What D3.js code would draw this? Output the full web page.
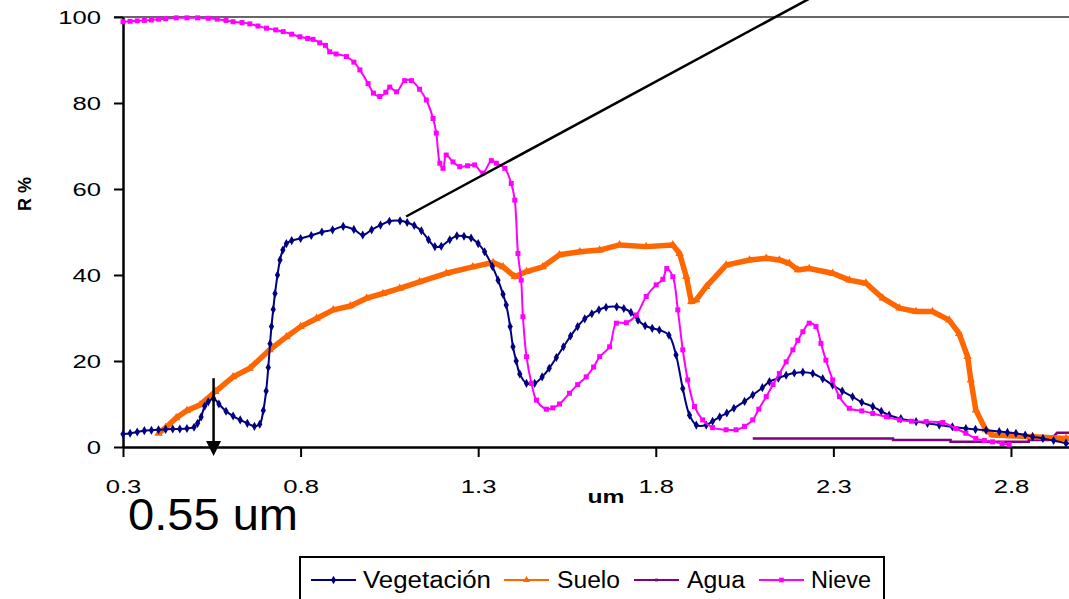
<!DOCTYPE html>
<html>
<head>
<meta charset="utf-8">
<script src="https://cdn.jsdelivr.net/npm/d3@7"></script>
<style>
  body { margin: 0; background: #fff; }
  svg { display: block; font-family: Arial, "Liberation Sans", sans-serif; }
</style>
</head>
<body>
<div id="chart"></div>
<script>
// datos: [longitud de onda (um), reflectancia (%)]
const vegetacion = [
  [0.30,3.0],[0.32,3.2],[0.34,3.5],[0.36,3.8],[0.38,3.9],[0.40,4.0],[0.42,4.1],[0.44,4.2],[0.46,4.2],[0.48,4.3],
  [0.50,4.6],[0.51,5.5],[0.52,7.0],[0.53,9.5],[0.54,10.5],[0.555,11.3],[0.57,10.0],[0.59,8.3],[0.61,7.2],[0.63,6.3],
  [0.65,5.5],[0.67,4.8],[0.685,5.3],[0.695,8.5],[0.703,13],[0.709,18.5],[0.714,24],[0.718,28],[0.723,32],[0.728,35.7],
  [0.735,40],[0.742,43.5],[0.75,45.8],[0.76,47.3],[0.775,48.0],[0.80,48.5],[0.83,49.2],[0.86,50.0],[0.89,50.5],[0.92,51.3],
  [0.95,50.6],[0.975,49.3],[1.00,50.5],[1.025,51.6],[1.05,52.5],[1.08,52.6],[1.10,52.2],[1.12,51.5],[1.14,50.3],[1.16,48.2],
  [1.178,46.6],[1.196,46.7],[1.22,48.2],[1.24,49.1],[1.26,49.0],[1.28,48.6],[1.30,47.3],[1.318,45.4],[1.34,42],[1.356,38.8],
  [1.37,35.5],[1.379,33],[1.39,28],[1.398,23.3],[1.407,20],[1.417,17],[1.436,14.8],[1.459,14.8],[1.48,16.3],[1.50,18.3],
  [1.52,20.8],[1.54,23.3],[1.56,25.8],[1.58,28],[1.60,29.8],[1.62,31.0],[1.64,31.9],[1.66,32.5],[1.69,32.6],[1.71,32.2],
  [1.73,31.3],[1.75,29.5],[1.77,28.2],[1.79,27.6],[1.81,27.2],[1.837,26.0],[1.857,21.4],[1.876,13.6],[1.895,7.4],[1.914,5.1],
  [1.942,5.1],[1.96,6.0],[1.98,7.0],[2.00,7.9],[2.02,9.0],[2.05,10.6],[2.073,12.1],[2.10,13.8],[2.12,15.2],[2.145,16.0],
  [2.167,16.7],[2.19,17.2],[2.214,17.4],[2.242,17.1],[2.27,15.9],[2.298,14.4],[2.325,13.0],[2.354,11.7],[2.38,10.4],[2.411,9.4],
  [2.435,8.3],[2.457,7.4],[2.49,6.6],[2.533,5.9],[2.565,5.5],[2.598,5.1],[2.635,4.7],[2.673,4.3],[2.70,4.1],[2.73,3.9],
  [2.767,3.6],[2.79,3.4],[2.814,3.2],[2.84,2.8],[2.861,2.4],[2.89,2.0],[2.92,1.5],[2.955,0.9],[2.98,0.6]
];
const suelo = [
  [0.40,3.2],[0.42,4.5],[0.45,6.8],[0.48,8.5],[0.517,9.8],[0.56,12.9],[0.61,16.3],[0.657,18.3],[0.713,22.6],[0.76,25.6],
  [0.80,28.0],[0.845,29.9],[0.892,31.9],[0.94,32.8],[0.986,34.6],[1.032,35.7],[1.079,36.9],[1.135,38.4],[1.21,40.4],[1.285,41.9],
  [1.342,42.9],[1.37,41.9],[1.403,39.6],[1.436,40.8],[1.482,41.9],[1.529,44.7],[1.586,45.4],[1.642,45.8],[1.698,47.0],[1.773,46.6],
  [1.848,47.0],[1.867,45.0],[1.886,39.6],[1.90,33.8],[1.914,34.2],[1.942,37.3],[1.998,42.3],[2.064,43.5],[2.111,43.9],[2.148,43.5],
  [2.176,42.7],[2.20,41.2],[2.232,41.5],[2.298,40.4],[2.345,38.8],[2.392,38.1],[2.439,34.6],[2.486,32.3],[2.533,31.5],[2.579,31.5],
  [2.626,29.5],[2.654,26.4],[2.678,21.0],[2.687,15.6],[2.701,8.6],[2.729,4.0],[2.748,2.8],[2.80,2.6],[2.861,2.4],[2.955,2.0],[3.0,1.9]
];
const agua = [
  [2.073,2.0],[2.468,2.0],[2.468,1.6],[2.63,1.6],[2.63,1.2],[2.85,1.2],[2.85,1.6],[2.91,1.6],[2.93,3.3],[3.0,3.3]
];
const nieve = [
  [0.30,98.9],[0.32,99.0],[0.34,99.1],[0.36,99.2],[0.38,99.3],[0.40,99.5],[0.42,99.6],[0.45,99.8],[0.48,99.8],[0.51,99.8],
  [0.54,99.7],[0.565,99.5],[0.59,99.2],[0.61,98.9],[0.635,98.7],[0.657,98.4],[0.68,97.9],[0.704,97.4],[0.73,97.0],[0.751,96.6],
  [0.775,96.0],[0.798,95.4],[0.82,95.0],[0.835,94.8],[0.854,94.0],[0.87,93.4],[0.882,91.9],[0.90,91.4],[0.929,90.8],[0.95,89.5],
  [0.967,87.7],[0.99,84.5],[1.005,82.3],[1.023,81.5],[1.04,82.5],[1.051,83.7],[1.07,82.6],[1.093,85.2],[1.112,85.2],[1.135,83.2],
  [1.154,80.7],[1.173,76.4],[1.182,73.0],[1.192,66.0],[1.201,64.8],[1.21,67.9],[1.229,66.3],[1.248,65.2],[1.27,65.4],[1.29,65.6],
  [1.313,63.7],[1.337,66.6],[1.351,66.0],[1.375,64.8],[1.393,61.3],[1.403,57.4],[1.412,45.0],[1.421,38.8],[1.426,30.3],[1.436,21.0],
  [1.45,14.8],[1.464,10.9],[1.492,8.8],[1.51,9.1],[1.529,10.0],[1.557,12.5],[1.58,14.5],[1.604,16.3],[1.625,18.6],[1.642,21.0],
  [1.67,23.3],[1.689,28.8],[1.717,28.9],[1.745,30.7],[1.773,35.0],[1.801,37.7],[1.82,39.0],[1.831,41.5],[1.848,39.6],[1.862,31.9],
  [1.876,22.6],[1.89,15.6],[1.909,9.4],[1.932,6.3],[1.96,4.5],[1.998,4.0],[2.026,4.0],[2.05,4.8],[2.073,6.3],[2.09,8.8],
  [2.111,11.7],[2.13,14.5],[2.148,17.1],[2.167,19.8],[2.186,22.6],[2.20,24.8],[2.214,26.8],[2.232,28.8],[2.251,28.0],[2.265,24.1],
  [2.279,20.2],[2.298,15.6],[2.317,11.7],[2.345,9.0],[2.38,8.4],[2.411,7.8],[2.45,7.0],[2.486,6.3],[2.52,6.0],[2.561,5.9],
  [2.608,5.7],[2.645,4.3],[2.673,3.2],[2.701,2.0],[2.725,1.5],[2.748,1.2],[2.775,0.8],[2.795,0.6]
];
const seriesNames = ['Vegetación', 'Suelo', 'Agua', 'Nieve'];
const xTicks = [0.3, 0.8, 1.3, 1.8, 2.3, 2.8];
const yTicks = [0, 20, 40, 60, 80, 100];
const flecha = { x: 0.555, desde: 16, label: '0.55 um' };
const lineaNota = [[1.097, 53.6], [2.24, 104.6]];

class Espectro {
    constructor(option) {
        for (let [key, value] of Object.entries(option)) {
            this[key] = value;
        }
        this.creatSvg();
        this.creatAxis();
        this.creatLines();
        this.creatNotes();
        this.creatLegend();
    }
    creatSvg() {
        this.svg = d3.select(this.ele)
            .append('svg')
            .attr('width', this.width)
            .attr('height', this.height);
        this.x = d3.scaleLinear().domain([0.3, 3.0]).range([123, 1082]);
        this.y = d3.scaleLinear().domain([0, 100]).range([447, 17]);
    }
    creatAxis() {
        const x = this.x, y = this.y;
        // linea superior (100)
        this.svg.append('line')
            .attr('x1', 114).attr('x2', this.width)
            .attr('y1', y(100)).attr('y2', y(100))
            .attr('stroke', '#333').attr('stroke-width', 1.5);

        const yAxis = this.svg.append('g')
            .attr('transform', `translate(${x(0.3)},0)`)
            .call(d3.axisLeft(y).tickValues(yTicks).tickSize(9).tickSizeOuter(0));
        yAxis.select('.domain').attr('stroke', '#000').attr('stroke-width', 2.5);
        yAxis.selectAll('.tick line').attr('stroke', '#000').attr('stroke-width', 2);
        yAxis.selectAll('.tick text')
            .attr('x', null).attr('dy', '0.36em')
            .attr('transform', 'translate(-22,0) scale(1.35,1)')
            .attr('font-size', 19).attr('fill', '#000')
            .attr('font-family', 'Arial, "Liberation Sans", sans-serif');

        const xAxis = this.svg.append('g')
            .attr('transform', `translate(0,${y(0)})`)
            .call(d3.axisBottom(x).tickValues(xTicks).tickFormat(d3.format('.1f')).tickSize(10).tickSizeOuter(0));
        xAxis.select('.domain').attr('stroke', '#000').attr('stroke-width', 2.5);
        xAxis.selectAll('.tick line').attr('stroke', '#000').attr('stroke-width', 2);
        xAxis.selectAll('.tick text')
            .attr('y', null).attr('dy', null)
            .attr('transform', 'translate(0,46) scale(1.35,1)')
            .attr('font-size', 19).attr('fill', '#000')
            .attr('font-family', 'Arial, "Liberation Sans", sans-serif');

        // titulos
        this.svg.append('text')
            .attr('transform', 'translate(606,503) scale(1.3,1)')
            .attr('text-anchor', 'middle')
            .attr('font-size', 19).attr('font-weight', 'bold')
            .text('um');
        this.svg.append('text')
            .attr('transform', 'translate(31,194) rotate(-90)')
            .attr('text-anchor', 'middle')
            .attr('font-size', 18).attr('font-weight', 'bold')
            .text('R %');
    }
    creatLines() {
        const x = this.x, y = this.y;
        const lineSmooth = d3.line().x(d => x(d[0])).y(d => y(d[1])).curve(d3.curveCatmullRom.alpha(0.5));
        const lineFlat = d3.line().x(d => x(d[0])).y(d => y(d[1]));

        // agua
        this.svg.append('path').datum(agua)
            .attr('d', lineFlat).attr('fill', 'none')
            .attr('stroke', '#800080').attr('stroke-width', 2.5);

        // suelo
        this.svg.append('path').datum(suelo)
            .attr('d', lineFlat).attr('fill', 'none')
            .attr('stroke', '#FF6600').attr('stroke-width', 5.5).attr('stroke-linejoin', 'round');
        this.svg.append('g').selectAll('path')
            .data(suelo).enter().append('path')
            .attr('d', d3.symbol(d3.symbolTriangle, 30))
            .attr('transform', d => `translate(${x(d[0])},${y(d[1])})`)
            .attr('fill', '#FF6600');

        // vegetacion
        this.svg.append('path').datum(vegetacion)
            .attr('d', lineSmooth).attr('fill', 'none')
            .attr('stroke', '#000080').attr('stroke-width', 2);
        this.svg.append('g').selectAll('path')
            .data(vegetacion).enter().append('path')
            .attr('d', d3.symbol(d3.symbolDiamond, 24))
            .attr('transform', d => `translate(${x(d[0])},${y(d[1])})`)
            .attr('fill', '#000080');

        // nieve
        this.svg.append('path').datum(nieve)
            .attr('d', lineSmooth).attr('fill', 'none')
            .attr('stroke', '#FF00FF').attr('stroke-width', 2);
        this.svg.append('g').selectAll('rect')
            .data(nieve).enter().append('rect')
            .attr('x', d => x(d[0]) - 2.5).attr('y', d => y(d[1]) - 2.5)
            .attr('width', 5).attr('height', 5)
            .attr('fill', '#FF00FF');
    }
    creatNotes() {
        const x = this.x, y = this.y;
        // linea diagonal
        this.svg.append('line')
            .attr('x1', x(lineaNota[0][0])).attr('y1', y(lineaNota[0][1]))
            .attr('x2', x(lineaNota[1][0])).attr('y2', y(lineaNota[1][1]))
            .attr('stroke', '#000').attr('stroke-width', 2.5);
        // flecha 0.55 um
        const ax = x(flecha.x);
        this.svg.append('line')
            .attr('x1', ax).attr('x2', ax)
            .attr('y1', y(flecha.desde)).attr('y2', y(0) - 4)
            .attr('stroke', '#000').attr('stroke-width', 2.5);
        this.svg.append('path')
            .attr('d', `M${ax - 7.5},${y(0) - 6} L${ax + 7.5},${y(0) - 6} L${ax},${y(0) + 9} Z`)
            .attr('fill', '#000');
        this.svg.append('text')
            .attr('x', 128).attr('y', 530)
            .attr('font-size', 44)
            .attr('textLength', 170).attr('lengthAdjust', 'spacingAndGlyphs')
            .text(flecha.label);
    }
    creatLegend() {
        const colors = ['#000080', '#FF6600', '#800080', '#FF00FF'];
        const lineX = [311, 504, 634, 759];
        const textX = [363, 557, 687, 811];
        const textW = [128, 63, 58, 60];
        const ly = 580;
        this.svg.append('rect')
            .attr('x', 300).attr('y', 557)
            .attr('width', 584).attr('height', 60)
            .attr('fill', 'none').attr('stroke', '#000').attr('stroke-width', 2);
        const items = this.svg.append('g').selectAll('g')
            .data(seriesNames).enter().append('g');
        items.append('line')
            .attr('x1', (d, i) => lineX[i]).attr('x2', (d, i) => lineX[i] + 45)
            .attr('y1', ly).attr('y2', ly)
            .attr('stroke', (d, i) => colors[i]).attr('stroke-width', 2);
        items.append('path')
            .attr('d', (d, i) => d3.symbol([d3.symbolDiamond, d3.symbolTriangle, d3.symbolSquare, d3.symbolSquare][i], i === 2 ? 8 : 22)())
            .attr('transform', (d, i) => `translate(${lineX[i] + 22.5},${ly})`)
            .attr('fill', (d, i) => colors[i]);
        items.append('text')
            .attr('x', (d, i) => textX[i]).attr('y', 588)
            .attr('font-size', 23)
            .attr('textLength', (d, i) => textW[i]).attr('lengthAdjust', 'spacingAndGlyphs')
            .text(d => d);
    }
}

let chart = new Espectro({
    ele: document.getElementById('chart'),
    width: 1069,
    height: 599
});
</script>
</body>
</html>
